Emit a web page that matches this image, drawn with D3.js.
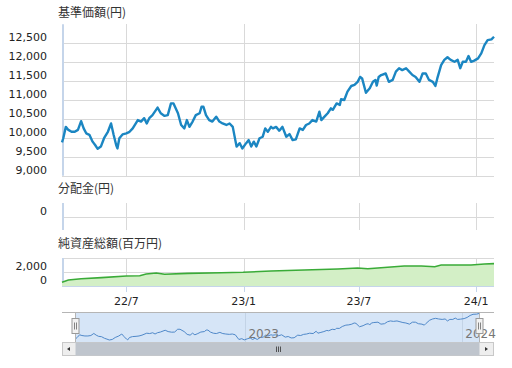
<!DOCTYPE html>
<html>
<head>
<meta charset="utf-8">
<script src="https://cdn.jsdelivr.net/npm/d3@7"></script>
<style>
	body { margin: 0; background: #fff; }
	svg { display: block; font-family: "DejaVu Sans", sans-serif; }
	.title { font-family: "Noto Sans CJK JP", sans-serif; font-size: 12px; fill: #333; }
	.ylab { font-size: 11px; fill: #222; }
	.xlab { font-size: 11px; fill: #222; }
	.grid { stroke: #d9d9d9; stroke-width: 1; shape-rendering: crispEdges; }
</style>
</head>
<body>
<svg id="chart" width="512" height="368"></svg>
<script>
'use strict';

//Price (基準価額) - date, yen
var priceDates = ["2022-03-22","2022-03-24","2022-03-28","2022-04-01","2022-04-06","2022-04-11","2022-04-16","2022-04-21","2022-04-25","2022-04-29",
	"2022-05-04","2022-05-09","2022-05-13","2022-05-17","2022-05-22","2022-05-27","2022-06-02","2022-06-07","2022-06-11","2022-06-15",
	"2022-06-17","2022-06-20","2022-06-25","2022-07-01","2022-07-06","2022-07-11","2022-07-19","2022-07-24","2022-07-29","2022-08-02",
	"2022-08-06","2022-08-11","2022-08-19","2022-08-24","2022-08-30","2022-09-04","2022-09-09","2022-09-13","2022-09-20","2022-09-25",
	"2022-09-30","2022-10-04","2022-10-08","2022-10-13","2022-10-18","2022-10-24","2022-10-27","2022-10-30","2022-11-03","2022-11-08",
	"2022-11-13","2022-11-19","2022-11-24","2022-11-29","2022-12-05","2022-12-10","2022-12-15","2022-12-19","2022-12-21","2022-12-26",
	"2022-12-30","2023-01-05","2023-01-09","2023-01-13","2023-01-17","2023-01-21","2023-01-26","2023-01-31","2023-02-04","2023-02-08",
	"2023-02-13","2023-02-16","2023-02-21","2023-02-26","2023-03-03","2023-03-09","2023-03-14","2023-03-19","2023-03-24","2023-03-30",
	"2023-04-04","2023-04-09","2023-04-14","2023-04-19","2023-04-25","2023-04-30","2023-05-03","2023-05-08","2023-05-13","2023-05-18",
	"2023-05-21","2023-05-27","2023-06-01","2023-06-03","2023-06-08","2023-06-13","2023-06-19","2023-06-24","2023-06-29","2023-07-03",
	"2023-07-06","2023-07-12","2023-07-18","2023-07-23","2023-07-27","2023-07-29","2023-08-01","2023-08-05","2023-08-12","2023-08-17",
	"2023-08-23","2023-08-28","2023-09-02","2023-09-07","2023-09-13","2023-09-18","2023-09-23","2023-09-28","2023-10-04","2023-10-09",
	"2023-10-14","2023-10-19","2023-10-25","2023-10-29","2023-11-01","2023-11-07","2023-11-12","2023-11-17","2023-11-22","2023-11-28",
	"2023-12-03","2023-12-07","2023-12-11","2023-12-16","2023-12-20","2023-12-24","2023-12-29","2024-01-04","2024-01-09","2024-01-14",
	"2024-01-19","2024-01-25","2024-01-29"];
var priceValues = [9880,9990,10290,10210,10160,10160,10210,10440,10250,10120,
	10080,9900,9810,9710,9770,9990,10160,10380,10080,9810,
	9720,9990,10090,10120,10160,10250,10470,10430,10520,10380,
	10520,10600,10800,10650,10580,10600,10910,10910,10650,10340,
	10250,10470,10290,10430,10600,10650,10820,10820,10600,10470,
	10430,10560,10430,10380,10340,10380,10290,9940,9770,9860,
	9720,9860,9940,9770,9900,9770,9990,10030,10250,10160,
	10290,10250,10290,10190,10290,10030,10100,9940,9960,10250,
	10210,10340,10380,10470,10430,10690,10470,10560,10650,10780,
	10740,10910,10870,11020,11000,11220,11370,11400,11480,11610,
	11570,11190,11310,11480,11530,11380,11610,11660,11700,11480,
	11530,11750,11840,11790,11840,11750,11660,11610,11480,11700,
	11700,11530,11480,11370,11570,11920,12060,12130,12060,12010,
	12060,11840,12010,12010,12160,12010,12040,12100,12230,12450,
	12580,12600,12670];

//Net assets (純資産総額) - date, million yen
var assetDates = ["2022-03-22","2022-04-01","2022-04-21","2022-05-23","2022-07-01","2022-07-22","2022-08-01","2022-08-17","2022-08-30","2022-10-05",
	"2022-11-27","2022-12-31","2023-02-13","2023-04-06","2023-05-29","2023-06-29","2023-07-15","2023-08-15","2023-09-10","2023-10-07",
	"2023-10-28","2023-11-07","2023-12-24","2024-01-14","2024-01-29"];
var assetValues = [530,860,1040,1190,1430,1470,1710,1860,1670,1810,
	1900,1960,2140,2290,2430,2570,2470,2670,2860,2860,
	2760,3000,3000,3140,3190];

//Axis ticks
var priceTicks = [9000,9500,10000,10500,11000,11500,12000,12500];
var distTicks = [0];
var assetTicks = [0,2000];
var assetGridTicks = [0,2000,4000];
var dateTicks = ["2022-07-01","2023-01-01","2023-07-01","2024-01-01"];
var dateTickLabels = ["22/7","23/1","23/7","24/1"];
var navTicks = ["2023-01-01","2024-01-01"];
var navTickLabels = ["2023","2024"];

var titles = ["基準価額(円)","分配金(円)","純資産総額(百万円)"];

var parseDate = d3.timeParse("%Y-%m-%d");
var fmt = d3.format(",");

var priceData = priceDates.map(function(d, i) { return { date: parseDate(d), value: priceValues[i] }; });
var assetData = assetDates.map(function(d, i) { return { date: parseDate(d), value: assetValues[i] }; });

var svg = d3.select("#chart");

//Shared x scale
var plotLeft = 62, plotRight = 494;
var x = d3.scaleTime()
	.domain([parseDate("2022-03-22"), parseDate("2024-01-29")])
	.range([plotLeft, plotRight]);

//Panel definitions
var panels = [
	{ title: titles[0], titleY: 13, top: 24.3, bottom: 175.7, domain: [9000, 13000], ticks: priceTicks, grid: priceTicks },
	{ title: titles[1], titleY: 189, top: 203, bottom: 230, domain: [-1, 1], ticks: distTicks, grid: distTicks },
	{ title: titles[2], titleY: 243.5, top: 258, bottom: 286, domain: [0, 4000], ticks: assetTicks, grid: assetGridTicks }
];

panels.forEach(function(p) {
	p.y = d3.scaleLinear().domain(p.domain).range([p.bottom, p.top]);

	var g = svg.append("g");

	g.append("text")
		.attr("class", "title")
		.attr("x", 58)
		.attr("y", p.titleY)
		.attr("dy", "0.35em")
		.text(p.title);

	//Horizontal grid
	g.selectAll(".hgrid").data(p.grid).enter().append("line")
		.attr("class", "grid")
		.attr("x1", plotLeft).attr("x2", plotRight)
		.attr("y1", function(d) { return Math.round(p.y(d)) + 0.5; })
		.attr("y2", function(d) { return Math.round(p.y(d)) + 0.5; });

	//Vertical grid
	g.selectAll(".vgrid").data(dateTicks).enter().append("line")
		.attr("class", "grid")
		.attr("x1", function(d) { return Math.round(x(parseDate(d))) + 0.5; })
		.attr("x2", function(d) { return Math.round(x(parseDate(d))) + 0.5; })
		.attr("y1", p.top).attr("y2", p.bottom);

	//Y labels (sit just above grid line)
	g.selectAll(".ylab").data(p.ticks).enter().append("text")
		.attr("class", "ylab")
		.attr("text-anchor", "end")
		.attr("x", 47)
		.attr("y", function(d) { return p.y(d) - 2; })
		.text(function(d) { return fmt(d); });

	//Left axis line
	g.append("line")
		.attr("x1", plotLeft + 1).attr("x2", plotLeft + 1)
		.attr("y1", p.top).attr("y2", p.bottom)
		.attr("stroke", "#c5d5ea").attr("stroke-width", 2);
});

//Price line
var py = panels[0].y;
svg.append("path")
	.datum(priceData)
	.attr("fill", "none")
	.attr("stroke", "#1b86c2")
	.attr("stroke-width", 2.4)
	.attr("stroke-linejoin", "round")
	.attr("d", d3.line()
		.x(function(d) { return x(d.date); })
		.y(function(d) { return py(d.value); }));

//Net assets area + line
var ay = panels[2].y;
svg.append("path")
	.datum(assetData)
	.attr("fill", "#d3efc6")
	.attr("d", d3.area()
		.x(function(d) { return x(d.date); })
		.y0(ay(0))
		.y1(function(d) { return ay(d.value); }));

svg.append("path")
	.datum(assetData)
	.attr("fill", "none")
	.attr("stroke", "#3aab38")
	.attr("stroke-width", 1.6)
	.attr("d", d3.line()
		.x(function(d) { return x(d.date); })
		.y(function(d) { return ay(d.value); }));

//Bottom x axis
var xAxis = svg.append("g");
xAxis.append("line")
	.attr("x1", plotLeft).attr("x2", plotRight)
	.attr("y1", 286.5).attr("y2", 286.5)
	.attr("stroke", "#c5d5ea");

xAxis.selectAll(".tick").data(dateTicks).enter().append("line")
	.attr("x1", function(d) { return Math.round(x(parseDate(d))) + 0.5; })
	.attr("x2", function(d) { return Math.round(x(parseDate(d))) + 0.5; })
	.attr("y1", 286).attr("y2", 292)
	.attr("stroke", "#c5d5ea");

xAxis.selectAll(".xlab").data(dateTicks).enter().append("text")
	.attr("class", "xlab")
	.attr("text-anchor", "middle")
	.attr("x", function(d) { return x(parseDate(d)); })
	.attr("y", 305)
	.text(function(d, i) { return dateTickLabels[i]; });

//Navigator
var navTop = 312.5, navBottom = 342, navLeft = 76, navRight = 479;
var nx = d3.scaleTime().domain(x.domain()).range([navLeft, navRight]);
var ny = d3.scaleLinear()
	.domain(d3.extent(priceValues))
	.range([340, 313.5]);

var nav = svg.append("g");

//Selected range
nav.append("rect")
	.attr("x", 75.5).attr("y", navTop)
	.attr("width", 479.5 - 75.5).attr("height", navBottom - navTop)
	.attr("fill", "#d6e5f7");

nav.selectAll(".navgrid").data(navTicks).enter().append("line")
	.attr("x1", function(d) { return Math.round(nx(parseDate(d))) + 0.5; })
	.attr("x2", function(d) { return Math.round(nx(parseDate(d))) + 0.5; })
	.attr("y1", navTop).attr("y2", navBottom)
	.attr("stroke", "#c3d3e6");

nav.append("path")
	.datum(priceData)
	.attr("fill", "none")
	.attr("stroke", "#4f88c9")
	.attr("stroke-width", 1)
	.attr("d", d3.line()
		.x(function(d) { return nx(d.date); })
		.y(function(d) { return ny(d.value); }));

nav.selectAll(".navlab").data(navTicks).enter().append("text")
	.attr("x", function(d) { return nx(parseDate(d)) + 3; })
	.attr("y", 338)
	.attr("font-size", "12px")
	.attr("fill", "#777")
	.text(function(d, i) { return navTickLabels[i]; });

//Outline
nav.append("path")
	.attr("d", "M" + plotLeft + "," + navTop + "H" + plotRight)
	.attr("stroke", "#b5b5b5").attr("fill", "none");
nav.selectAll(".edge").data([75.5, 479.5]).enter().append("line")
	.attr("x1", function(d) { return d; }).attr("x2", function(d) { return d; })
	.attr("y1", navTop).attr("y2", navBottom)
	.attr("stroke", "#b5b5b5");

//Handles
nav.selectAll(".handle").data([75.5, 479.5]).enter().append("g")
	.attr("transform", function(d) { return "translate(" + (d - 3.5) + ",318.5)"; })
	.each(function() {
		var h = d3.select(this);
		h.append("rect").attr("width", 7).attr("height", 15)
			.attr("fill", "#f2f2f2").attr("stroke", "#999");
		h.append("path").attr("d", "M2.5,4V11M4.5,4V11")
			.attr("stroke", "#666").attr("stroke-width", 0.8);
	});

//Scrollbar
var sb = svg.append("g");
sb.append("rect")
	.attr("x", plotLeft + 0.5).attr("y", 342.5)
	.attr("width", plotRight - plotLeft - 1).attr("height", 13)
	.attr("fill", "#eeeeee").attr("stroke", "#c8c8c8");
sb.append("rect")
	.attr("x", 75.5).attr("y", 342.5)
	.attr("width", 479.5 - 75.5).attr("height", 13)
	.attr("fill", "#bfc5cd");
sb.append("path")
	.attr("d", "M276.5,346.5V352M278.5,346.5V352M280.5,346.5V352")
	.attr("stroke", "#333").attr("stroke-width", 0.8);
sb.append("path")
	.attr("d", "M70,347L67,349L70,351Z")
	.attr("fill", "#333");
sb.append("path")
	.attr("d", "M485,347L488,349L485,351Z")
	.attr("fill", "#333");
</script>
</body>
</html>
